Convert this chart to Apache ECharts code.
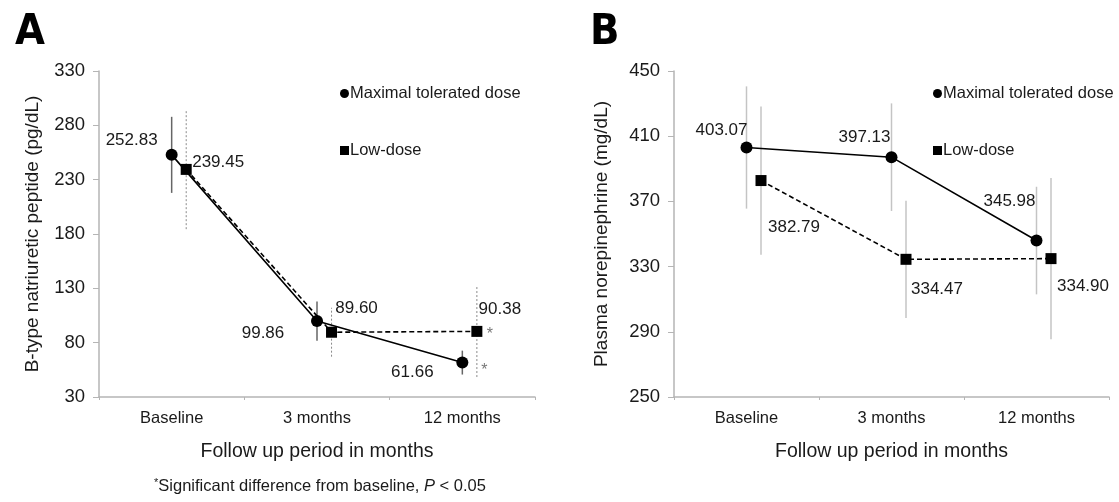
<!DOCTYPE html>
<html>
<head>
<meta charset="utf-8">
<script src="https://cdn.jsdelivr.net/npm/echarts@6/dist/echarts.min.js"></script>
<style>
  html, body { margin: 0; padding: 0; background: #fff; }
  #chart { width: 1119px; height: 502px; }
</style>
</head>
<body>
<div id="chart"></div>
<script>
// data
var categories = ['Baseline', '3 months', '12 months']
var seriesNames = ['Maximal tolerated dose', 'Low-dose']

// panel A: B-type natriuretic peptide (pg/dL)
var bnpMax = [252.83, 99.86, 61.66]
var bnpLow = [239.45, 89.60, 90.38]
var bnpMaxErr = [35, 18, 11]
var bnpLowErr = [55, 22.5, 42]
var bnpMaxSig = [false, false, true]
var bnpLowSig = [false, false, true]
var bnpTicks = [30, 80, 130, 180, 230, 280, 330]

// panel B: plasma norepinephrine (mg/dL)
var neMax = [403.07, 397.13, 345.98]
var neLow = [382.79, 334.47, 334.90]
var neMaxErr = [37.5, 33, 33]
var neLowErr = [45.5, 36, 49.5]
var neTicks = [250, 290, 330, 370, 410, 450]

var FONT = "'Liberation Sans', Arial, sans-serif"
var DODGE = 0.1 // low-dose points sit a little right of the category centre

// label offsets (px) for the value labels, style only
var offMaxA = [[-40, -15], [-54, 12], [-50, 10]]
var offLowA = [[32, -7], [25, -24], [23, -22]]
var offMaxB = [[-25, -17], [-27, -20], [-27, -39]]
var offLowB = [[33, 47], [31, 30], [32, 28]]

function lineSeries (name, values, shift, offsets, axisIdx, symbol, dashed) {
  return {
    name: name,
    type: 'line',
    xAxisIndex: axisIdx * 2 + 1,
    yAxisIndex: axisIdx,
    symbol: symbol,
    symbolSize: symbol === 'circle' ? 12 : 11,
    z: 5,
    lineStyle: { color: '#000', width: 1.6, type: dashed ? [5, 3] : 'solid' },
    itemStyle: { color: '#000' },
    label: {
      show: true,
      position: 'inside',
      align: 'center',
      verticalAlign: 'middle',
      color: '#1a1a1a',
      fontSize: 17,
      fontFamily: FONT,
      formatter: function (p) { return p.value[1].toFixed(2) }
    },
    data: values.map(function (v, i) {
      return { value: [i + shift, v], label: { offset: offsets[i] } }
    })
  }
}

function errorSeries (values, errs, shift, axisIdx, color, width, dash) {
  return {
    type: 'custom',
    xAxisIndex: axisIdx * 2 + 1,
    yAxisIndex: axisIdx,
    silent: true,
    z: 2,
    encode: { x: 0, y: [1, 2] },
    data: values.map(function (v, i) { return [i + shift, v - errs[i], v + errs[i]] }),
    renderItem: function (params, api) {
      var lo = api.coord([api.value(0), api.value(1)])
      var hi = api.coord([api.value(0), api.value(2)])
      return {
        type: 'line',
        shape: { x1: lo[0], y1: lo[1], x2: hi[0], y2: hi[1] },
        style: { stroke: color, lineWidth: width, lineDash: dash }
      }
    }
  }
}

function sigSeries (flags, values, shift, axisIdx, offset) {
  var data = []
  flags.forEach(function (f, i) { if (f) data.push([i + shift, values[i]]) })
  return {
    type: 'scatter',
    xAxisIndex: axisIdx * 2 + 1,
    yAxisIndex: axisIdx,
    symbolSize: 0,
    silent: true,
    label: {
      show: true,
      position: 'inside',
      offset: offset,
      formatter: '*',
      color: '#555',
      fontSize: 16,
      fontFamily: FONT
    },
    data: data
  }
}

function catAxis (gridIndex, title) {
  return {
    type: 'category',
    gridIndex: gridIndex,
    data: categories,
    boundaryGap: true,
    name: title,
    nameLocation: 'middle',
    nameGap: 45,
    nameTextStyle: { color: '#1a1a1a', fontSize: 19.5, fontFamily: FONT },
    axisLine: { lineStyle: { color: '#b5b5b5', width: 1.5 } },
    axisTick: { show: true, length: 3, lineStyle: { color: '#b5b5b5' } },
    axisLabel: { color: '#1a1a1a', fontSize: 16.5, margin: 13, fontFamily: FONT }
  }
}

function posAxis (gridIndex) {
  return { type: 'value', gridIndex: gridIndex, min: -0.5, max: 2.5, show: false }
}

function valAxis (gridIndex, ticks, title, gap) {
  return {
    type: 'value',
    gridIndex: gridIndex,
    min: ticks[0],
    max: ticks[ticks.length - 1],
    interval: ticks[1] - ticks[0],
    name: title,
    nameLocation: 'middle',
    nameGap: gap,
    nameTextStyle: { color: '#1a1a1a', fontSize: 19, fontFamily: FONT },
    axisLine: { show: true, onZero: false, lineStyle: { color: '#b5b5b5', width: 1.5 } },
    axisTick: { show: true, length: 6, lineStyle: { color: '#b5b5b5' } },
    axisLabel: { color: '#1a1a1a', fontSize: 18.5, margin: 14, fontFamily: FONT },
    splitLine: { show: false }
  }
}

function legendAt (left) {
  return {
    left: left,
    top: 80,
    orient: 'vertical',
    itemGap: 40,
    itemWidth: 9,
    itemHeight: 9,
    selectedMode: false,
    textStyle: { color: '#1a1a1a', fontSize: 16.5, fontFamily: FONT, padding: [0, 0, 0, -4] },
    data: [
      { name: seriesNames[0], icon: 'circle' },
      { name: seriesNames[1], icon: 'rect' }
    ]
  }
}

var chart = echarts.init(document.getElementById('chart'))
chart.setOption({
  backgroundColor: '#fff',
  animation: false,
  textStyle: { fontFamily: FONT },
  grid: [
    { left: 99, top: 71, width: 436, height: 326 },
    { left: 674, top: 71, width: 435, height: 326 }
  ],
  xAxis: [
    catAxis(0, 'Follow up period in months'),
    posAxis(0),
    catAxis(1, 'Follow up period in months'),
    posAxis(1)
  ],
  yAxis: [
    valAxis(0, bnpTicks, 'B-type natriuretic peptide (pg/dL)', 57),
    valAxis(1, neTicks, 'Plasma norepinephrine (mg/dL)', 63)
  ],
  legend: [legendAt(335), legendAt(928)],
  graphic: [
    { type: 'text', left: 15, top: 11, style: { text: 'A', fill: '#000', font: "bold 43px 'DejaVu Sans Condensed', sans-serif" } },
    { type: 'text', left: 590, top: 11, style: { text: 'B', fill: '#000', font: "bold 43px 'DejaVu Sans Condensed', sans-serif" } },
    {
      type: 'text',
      x: 320,
      y: 486,
      style: {
        text: '{s|*}Significant difference from baseline, {i|P} < 0.05',
        fill: '#1a1a1a',
        font: '16.5px ' + FONT,
        align: 'center',
        verticalAlign: 'middle',
        rich: {
          s: { fontSize: 11, verticalAlign: 'top', fontFamily: FONT, fill: '#1a1a1a' },
          i: { fontStyle: 'italic', fontSize: 16.5, fontFamily: FONT, fill: '#1a1a1a' }
        }
      }
    }
  ],
  series: [
    errorSeries(bnpMax, bnpMaxErr, 0, 0, '#666', 1.5, null),
    errorSeries(bnpLow, bnpLowErr, DODGE, 0, '#8a8a8a', 1, [2, 2]),
    lineSeries(seriesNames[0], bnpMax, 0, offMaxA, 0, 'circle', false),
    lineSeries(seriesNames[1], bnpLow, DODGE, offLowA, 0, 'rect', true),
    sigSeries(bnpLowSig, bnpLow, DODGE, 0, [13, 3]),
    sigSeries(bnpMaxSig, bnpMax, 0, 0, [22, 8]),

    errorSeries(neMax, neMaxErr, 0, 1, '#c4c4c4', 1.5, null),
    errorSeries(neLow, neLowErr, DODGE, 1, '#c4c4c4', 1.5, null),
    lineSeries(seriesNames[0], neMax, 0, offMaxB, 1, 'circle', false),
    lineSeries(seriesNames[1], neLow, DODGE, offLowB, 1, 'rect', true)
  ]
})
</script>
</body>
</html>
